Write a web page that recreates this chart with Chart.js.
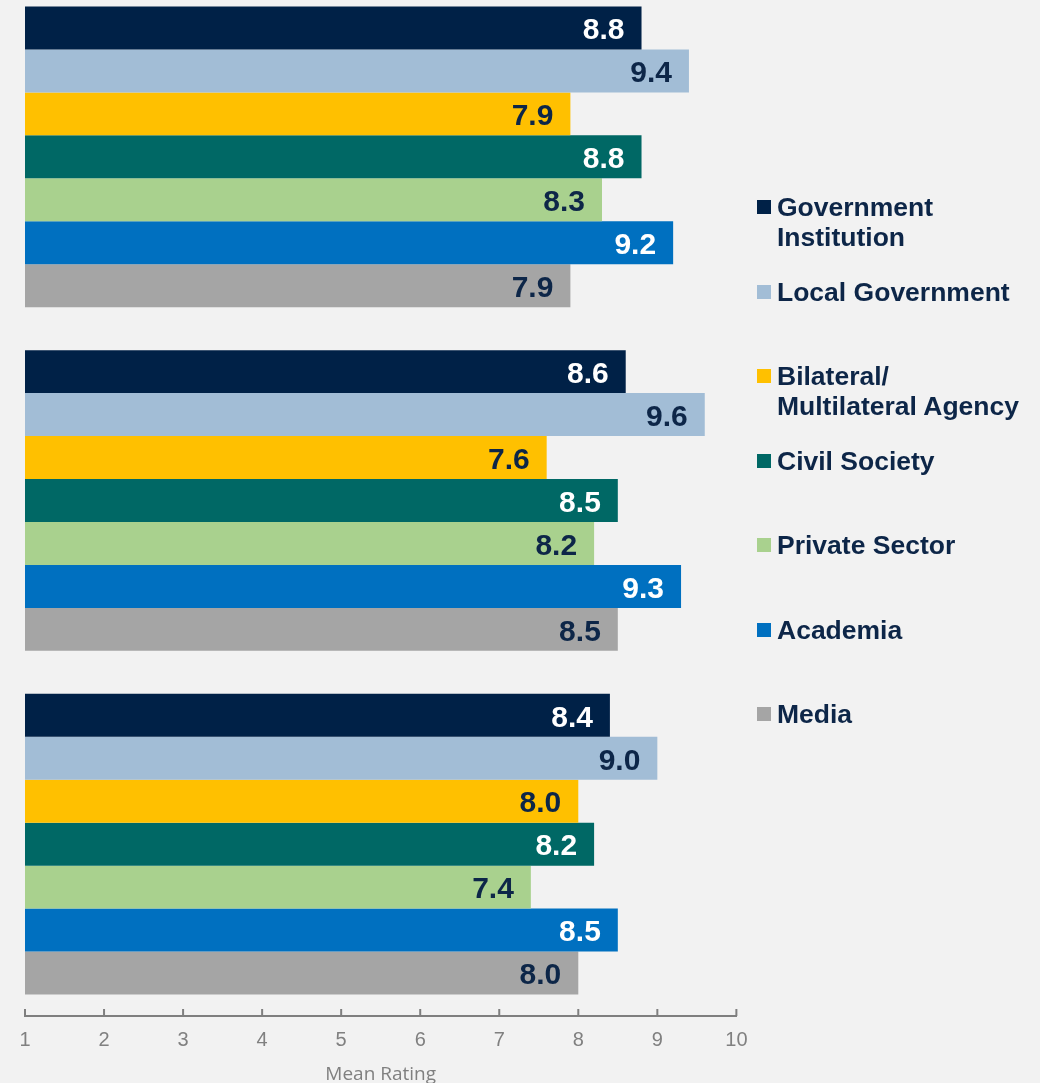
<!DOCTYPE html>
<html>
<head>
<meta charset="utf-8">
<script src="https://cdn.jsdelivr.net/npm/chart.js@4.4.1/dist/chart.umd.min.js"></script>
<style>
    body { margin: 0; background: #f2f2f2; width: 1040px; height: 1083px; overflow: hidden; position: relative; }
    #wrap { position: absolute; left: 0; top: -15px; width: 762px; height: 1099px; }
    #legend { position: absolute; left: 757px; top: 192px; font-family: "Liberation Sans", Arial, sans-serif; font-weight: bold; font-size: 26.5px; line-height: 30px; color: #0d2648; }
    .item { position: relative; height: 84.5px; padding-left: 20px; white-space: nowrap; }
    .box { position: absolute; left: 0; top: 8px; width: 14px; height: 14px; }
</style>
</head>
<body>
<div id="wrap"><canvas id="chart"></canvas></div>
<div id="legend"></div>
<script>
// three groups, no visible category labels in the original
const categories = ['', '', ''];
const seriesNames = ['Government Institution', 'Local Government', 'Bilateral/Multilateral Agency', 'Civil Society', 'Private Sector', 'Academia', 'Media'];
const legendLines = [['Government', 'Institution'], ['Local Government'], ['Bilateral/', 'Multilateral Agency'], ['Civil Society'], ['Private Sector'], ['Academia'], ['Media']];
const governmentInstitution = [8.8, 8.6, 8.4];
const localGovernment = [9.4, 9.6, 9.0];
const bilateralAgency = [7.9, 7.6, 8.0];
const civilSociety = [8.8, 8.5, 8.2];
const privateSector = [8.3, 8.2, 7.4];
const academia = [9.2, 9.3, 8.5];
const media = [7.9, 8.5, 8.0];
const xTicks = [1, 2, 3, 4, 5, 6, 7, 8, 9, 10];

const seriesValues = [governmentInstitution, localGovernment, bilateralAgency, civilSociety, privateSector, academia, media];
const colors = ['#002147', '#a2bdd6', '#ffc000', '#006865', '#a9d18e', '#0070c0', '#a5a5a5'];
const labelColors = ['#ffffff', '#0d2648', '#0d2648', '#ffffff', '#0d2648', '#ffffff', '#0d2648'];

// value labels inside the end of each bar
const barLabels = {
    id: 'barLabels',
    afterDatasetsDraw(chart) {
        const ctx = chart.ctx;
        ctx.save();
        ctx.font = 'bold 30px "Liberation Sans", Arial, sans-serif';
        ctx.textAlign = 'right';
        ctx.textBaseline = 'middle';
        chart.data.datasets.forEach((ds, i) => {
            chart.getDatasetMeta(i).data.forEach((bar, j) => {
                ctx.fillStyle = labelColors[i];
                ctx.fillText(ds.data[j].toFixed(1), bar.x - 17, bar.y + 3);
            });
        });
        ctx.restore();
    }
};

// small tick marks pointing up from the axis line
const upTicks = {
    id: 'upTicks',
    afterDraw(chart) {
        const x = chart.scales.x;
        const ctx = chart.ctx;
        ctx.save();
        ctx.strokeStyle = '#7f7f7f';
        ctx.lineWidth = 2;
        xTicks.forEach(v => {
            const px = x.getPixelForValue(v);
            ctx.beginPath();
            ctx.moveTo(px, x.top);
            ctx.lineTo(px, x.top - 7);
            ctx.stroke();
        });
        ctx.restore();
    }
};

new Chart(document.getElementById('chart'), {
    type: 'bar',
    data: {
        labels: categories,
        datasets: seriesNames.map((name, i) => ({
            label: name,
            data: seriesValues[i],
            backgroundColor: colors[i],
            base: 1,
            barPercentage: 1,
            categoryPercentage: 0.875
        }))
    },
    options: {
        indexAxis: 'y',
        responsive: true,
        maintainAspectRatio: false,
        animation: false,
        layout: {padding: {left: 25, right: 21, top: 0, bottom: 0}},
        plugins: {legend: {display: false}, tooltip: {enabled: false}},
        scales: {
            y: {display: false, offset: true},
            x: {
                min: 1,
                max: 10,
                grid: {display: false, drawTicks: false},
                border: {display: true, color: '#7f7f7f', width: 2},
                afterBuildTicks: (axis) => { axis.ticks = xTicks.map(v => ({value: v})); },
                ticks: {
                    padding: 14.5,
                    color: '#808080',
                    font: {family: '"Liberation Sans", Arial, sans-serif', size: 20, lineHeight: 1}
                },
                title: {
                    display: true,
                    text: 'Mean Rating',
                    color: '#808080',
                    padding: {top: 0, bottom: 0},
                    font: {family: '"Liberation Sans Narrow", "Open Sans", sans-serif', size: 19, lineHeight: 1}
                }
            }
        }
    },
    plugins: [barLabels, upTicks]
});

const legend = document.getElementById('legend');
legendLines.forEach((lines, i) => {
    const item = document.createElement('div');
    item.className = 'item';
    item.innerHTML = '<span class="box" style="background:' + colors[i] + '"></span>' + lines.join('<br>');
    legend.appendChild(item);
});
</script>
</body>
</html>
